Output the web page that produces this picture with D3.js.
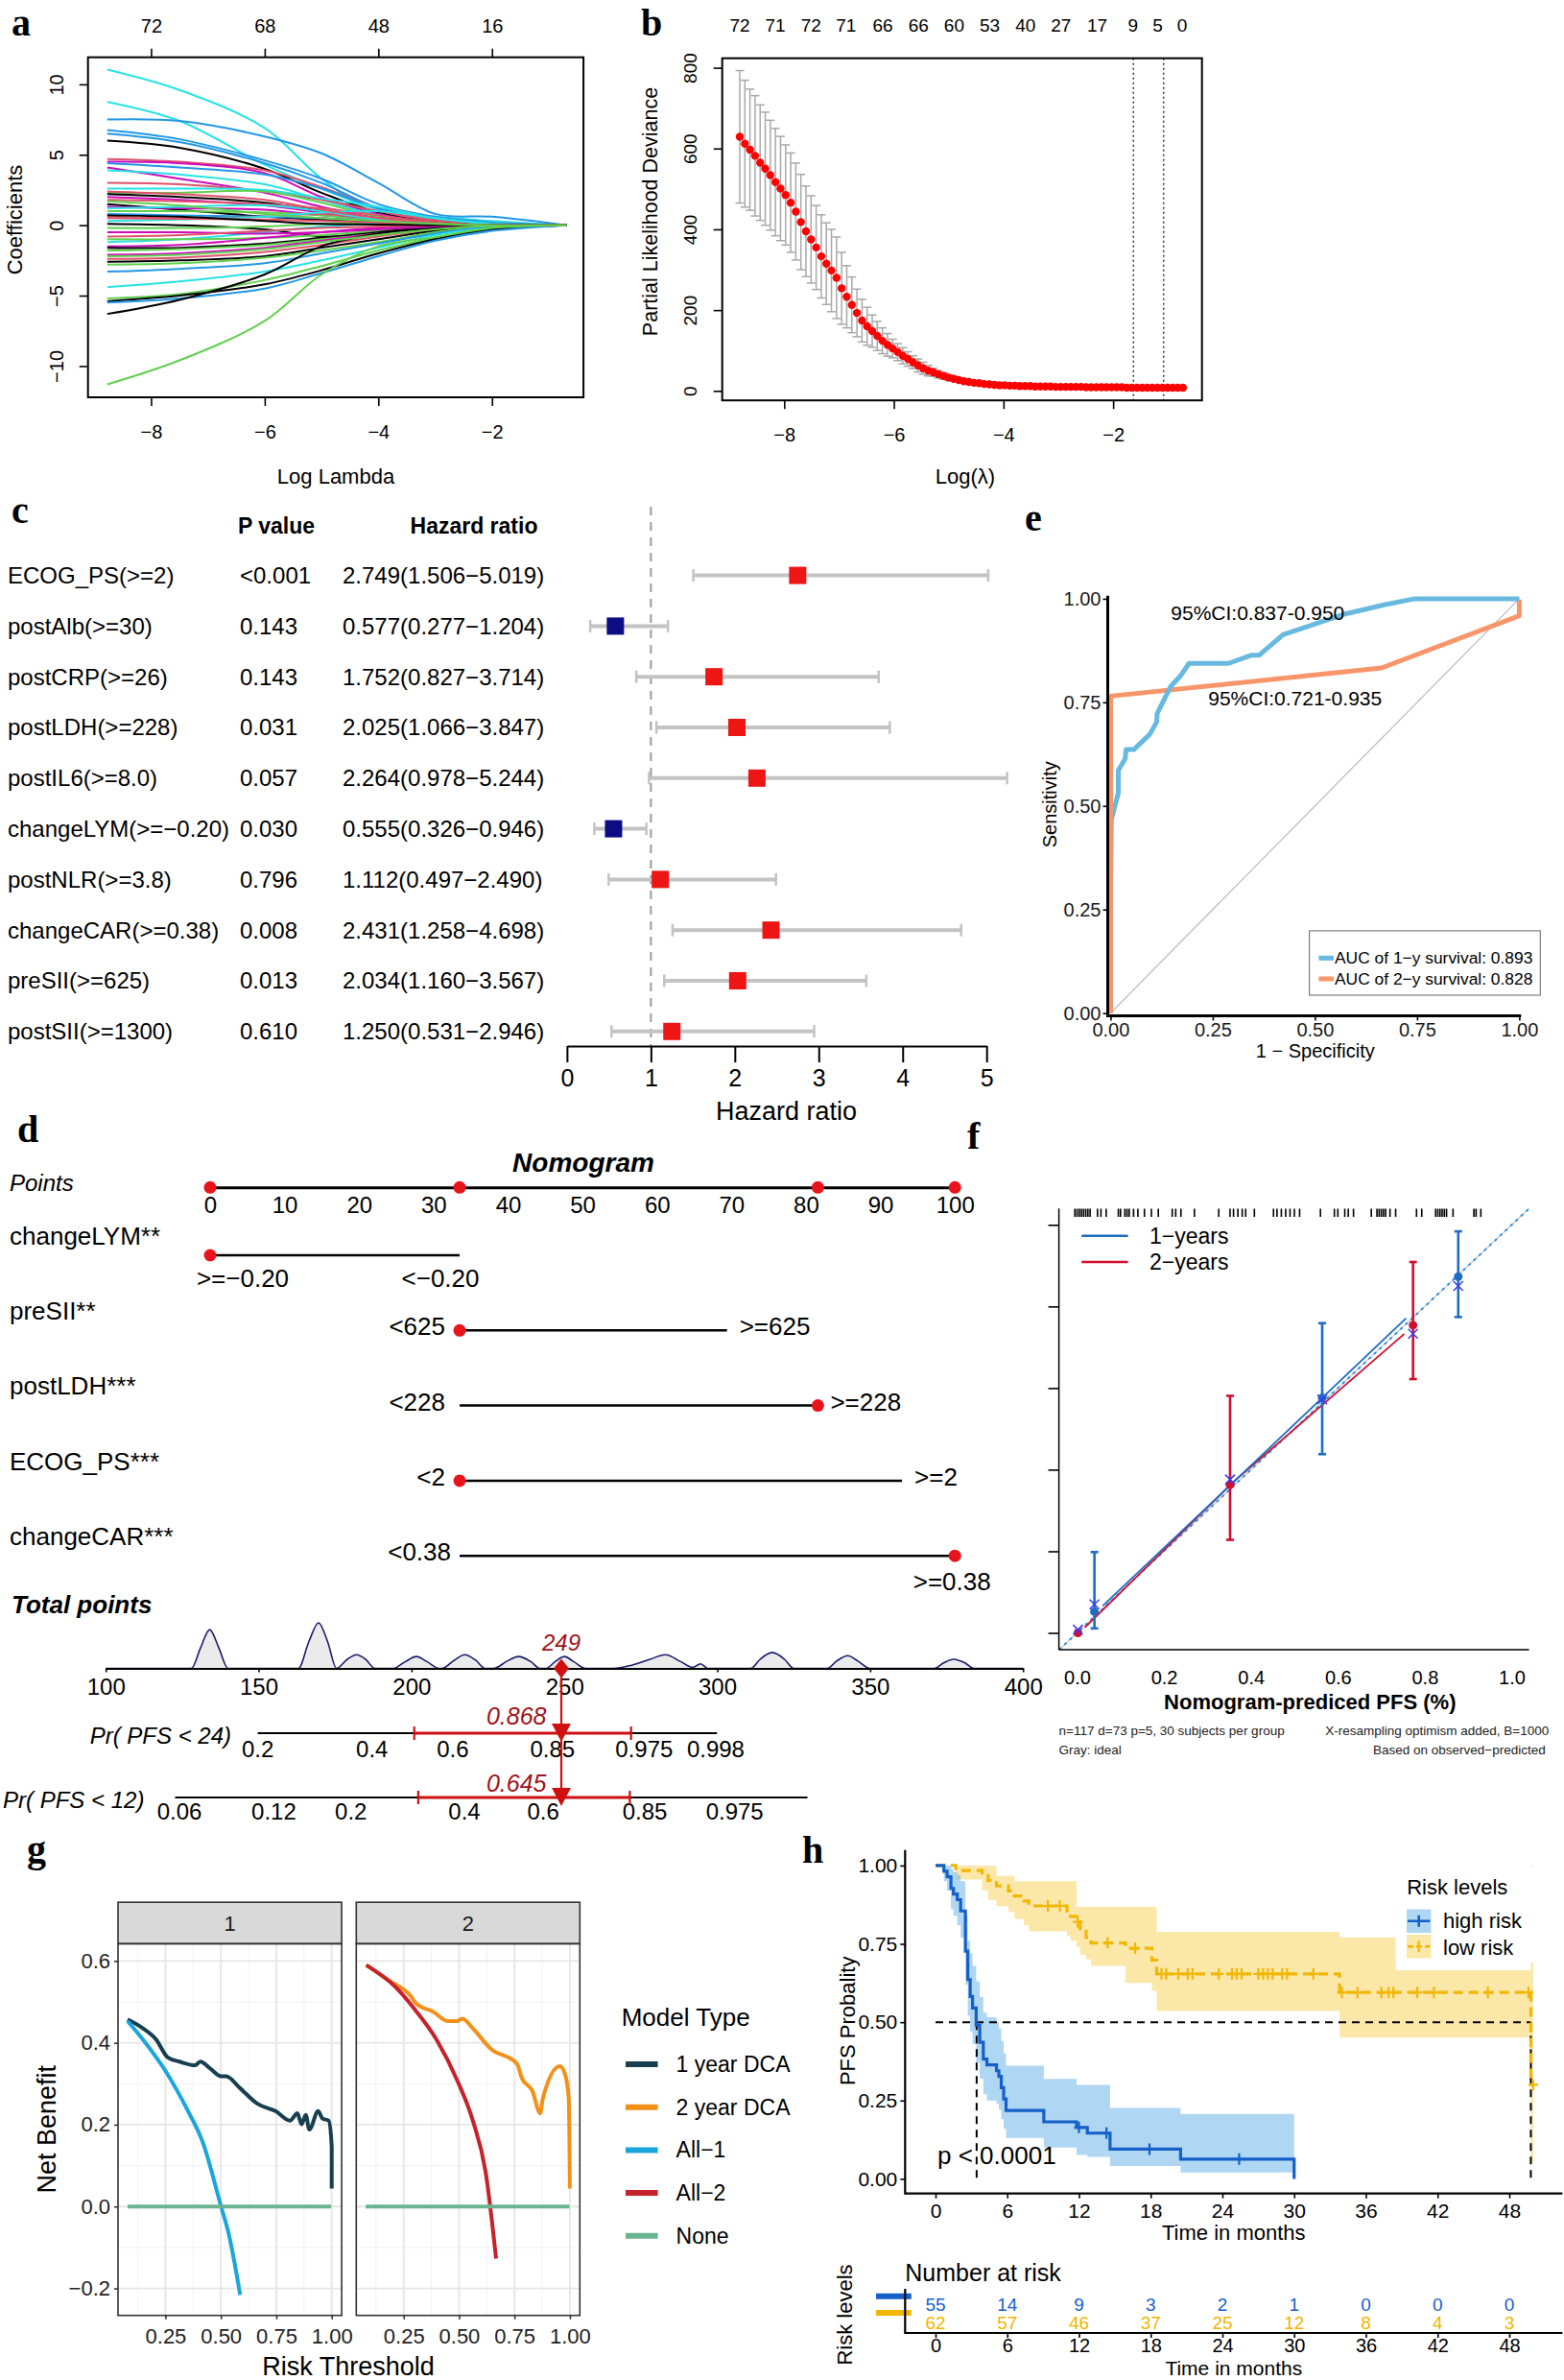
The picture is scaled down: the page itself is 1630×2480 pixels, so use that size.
<!DOCTYPE html>
<html>
<head>
<meta charset="utf-8">
<script src="https://cdn.jsdelivr.net/npm/d3@7"></script>
<style>
body { margin: 0; background: #fff; }
</style>
</head>
<body>
<div id="fig"></div>
<script>
// ---------- data ----------
// a: lasso coefficient paths, value at each log(lambda) in aGrid
var aGrid = [-8.77, -7.5, -6, -5, -4, -3, -2, -0.69];
var aPaths = [
  [11.05, 9.6, 6.9, 3.3, 0.8, 0.35, 0.1, 0],
  [8.75, 7.4, 4.3, 2.6, 1.1, 0.6, 0.3, 0],
  [7.5, 7.4, 6.3, 5.1, 3.0, 0.8, 0.6, 0],
  [6.75, 6.1, 4.6, 3.3, 1.5, 0.6, 0.2, 0],
  [6.5, 5.9, 4.4, 3.0, 1.2, 0.4, 0.1, 0],
  [6.0, 5.5, 4.0, 2.3, 0.9, 0.3, 0.05, 0],
  [4.7, 4.5, 3.9, 2.7, 1.2, 0.4, 0.1, 0],
  [4.5, 4.4, 3.7, 2.0, 0.8, 0.2, 0, 0],
  [4.4, 4.1, 3.6, 2.6, 1.2, 0.5, 0.1, 0],
  [4.1, 3.3, 2.3, 1.3, 0.5, 0.1, 0, 0],
  [3.9, 3.6, 2.9, 1.8, 0.7, 0.2, 0, 0],
  [3.0, 2.9, 2.4, 1.8, 1.0, 0.3, 0.05, 0],
  [2.6, 2.6, 2.5, 1.9, 1.3, 0.5, 0.1, 0],
  [2.3, 2.3, 2.4, 1.6, 0.6, 0.2, 0, 0],
  [2.2, 2.0, 1.6, 1.0, 0.5, 0.2, 0, 0],
  [2.0, 1.8, 1.4, 0.9, 0.4, 0.1, 0, 0],
  [1.8, 1.7, 1.5, 1.2, 0.7, 0.2, 0, 0],
  [1.5, 1.1, 0.6, 0.4, 0.2, 0.1, 0, 0],
  [1.3, 1.2, 1.1, 0.7, 0.4, 0.1, 0, 0],
  [1.0, 1.0, 0.9, 0.7, 0.3, 0.1, 0, 0],
  [0.8, 0.7, 0.6, 0.5, 0.3, 0.1, 0, 0],
  [0.6, 0.5, 0.6, 0.8, 0.5, 0.2, 0, 0],
  [0.3, 0.4, 0.6, 0.9, 1.0, 0.5, 0.1, 0],
  [0.1, 0.0, -0.3, -0.8, -0.6, -0.2, 0, 0],
  [-0.2, -0.2, -0.1, 0.1, 0.2, 0.1, 0, 0],
  [-1.2, -1.0, -0.5, -0.1, 0.1, 0.05, 0, 0],
  [-1.0, -1.0, -0.9, -0.7, -0.4, -0.1, 0, 0],
  [-1.5, -1.4, -0.9, -0.5, -0.2, -0.05, 0, 0],
  [-1.6, -1.6, -1.3, -0.9, -0.5, -0.1, 0, 0],
  [-1.8, -1.7, -1.4, -1.0, -0.6, -0.2, 0, 0],
  [-2.1, -2.0, -1.6, -1.1, -0.6, -0.2, 0, 0],
  [-2.4, -2.3, -1.9, -1.4, -0.8, -0.3, -0.05, 0],
  [-2.6, -2.5, -2.2, -1.6, -1.0, -0.4, -0.1, 0],
  [-2.8, -2.7, -2.3, -1.8, -1.2, -0.5, -0.1, 0],
  [-3.3, -3.1, -2.7, -2.0, -1.3, -0.6, -0.1, 0],
  [-4.4, -4.0, -3.3, -2.5, -1.6, -0.7, -0.2, 0],
  [-5.2, -4.9, -3.9, -2.9, -1.8, -0.9, -0.3, 0],
  [-5.4, -5.0, -4.2, -3.2, -2.0, -1.0, -0.3, 0],
  [-5.5, -5.2, -4.5, -3.4, -2.2, -1.1, -0.4, 0],
  [-6.3, -5.3, -3.5, -1.5, -0.6, -0.2, 0, 0],
  [-11.3, -9.6, -6.8, -3.5, -1.5, -0.85, -0.2, 0],
  [0.5, 0.45, 0.4, 0.3, 0.2, 0.05, 0, 0],
  [-0.5, -0.5, -0.6, -0.5, -0.3, -0.1, 0, 0],
  [1.2, 1.3, 1.4, 1.0, 0.4, 0.1, 0, 0],
  [-0.8, -0.7, -0.4, -0.2, -0.1, 0, 0, 0],
  [2.4, 2.2, 1.8, 1.1, 0.5, 0.1, 0, 0],
  [0.7, 0.6, 0.3, 0.1, 0.05, 0, 0, 0],
  [-2.2, -2.1, -1.7, -1.2, -0.7, -0.3, -0.05, 0],
  [1.7, 1.4, 0.8, 0.5, 0.3, 0.1, 0, 0]
];
var aPathCol = [4,4,3,3,3,0,1,5,3,5,4,1,4,2,0,5,1,0,5,2,3,1,4,0,2,4,2,5,0,2,5,1,0,2,3,4,2,0,3,0,2,1,5,4,1,1,0,2,2];
var aTopLab = ["72", "68", "48", "16"];
var rPal = ["#000000", "#DF536B", "#61D04F", "#2297E6", "#28E2E5", "#CD0BBC"];

// b: cross-validated partial likelihood deviance
var bLamStart = -8.81, bLamStep = 0.0929;
var bDev = [629,612,597,582,565,550,534,517,501,485,466,444,418,395,375,355,333,315,298,280,
  254,233,213,193,174,160,148,136,124,114,105,96,87,79,71,63,56,50,46,41,
  37,33,30,27,24,22,20,19,17,16,15,14,14,13,13,12,12,12,11,11,
  11,11,10,10,10,10,10,10,9,9,9,9,9,9,9,9,8,8,8,8,8,8,8,8,8,8,8,8];
var bSe = [164,157,150,149,143,140,136,133,129,124,123,120,118,112,108,104,103,101,102,101,
  89,77,69,59,53,47,40,36,32,28,23,21,20,18,16,16,15,13,10,9,
  8,7,6,5,5,4,4,3,3,3,3,3,2,2,2,2,2,2,2,2,
  2,2,2,2,2,2,2,2,2,2,2,2,2,2,2,2,2,2,2,2,2,2,2,2,2,2,2,2];
var bTopLam = [-8.81,-8.16,-7.51,-6.87,-6.2,-5.55,-4.9,-4.25,-3.6,-2.95,-2.29,-1.64,-1.19,-0.74];
var bTopLab = ["72","71","72","71","66","66","60","53","40","27","17","9","5","0"];
var bVlines = [-1.63, -1.08];

// c: forest plot
var cVars = ["ECOG_PS(>=2)","postAlb(>=30)","postCRP(>=26)","postLDH(>=228)","postIL6(>=8.0)",
  "changeLYM(>=\u22120.20)","postNLR(>=3.8)","changeCAR(>=0.38)","preSII(>=625)","postSII(>=1300)"];
var cP = ["<0.001","0.143","0.143","0.031","0.057","0.030","0.796","0.008","0.013","0.610"];
var cHR = [2.749,0.577,1.752,2.025,2.264,0.555,1.112,2.431,2.034,1.250];
var cLo = [1.506,0.277,0.827,1.066,0.978,0.326,0.497,1.258,1.160,0.531];
var cHi = [5.019,1.204,3.714,3.847,5.244,0.946,2.490,4.698,3.567,2.946];

// e: ROC curves
var eFpr1 = [0,0,0.002,0.019,0.019,0.036,0.038,0.057,0.096,0.113,0.114,0.147,0.172,0.192,0.289,0.345,0.364,0.422,0.569,0.672,0.744,1.0];
var eTpr1 = [0,0.3,0.467,0.531,0.586,0.614,0.636,0.636,0.673,0.703,0.723,0.788,0.815,0.844,0.844,0.864,0.864,0.913,0.962,0.986,1.0,1.0];
var eFpr2 = [0,0,0.663,1.0,1.0];
var eTpr2 = [0,0.765,0.833,0.959,0.998];

// d: nomogram
var dVars = ["changeLYM**","preSII**","postLDH***","ECOG_PS***","changeCAR***"];
var dLevLo = [">=\u22120.20","<625","<228","<2","<0.38"];
var dLevHi = ["<\u22120.20",">=625",">=228",">=2",">=0.38"];
var dFrom = [0,33.5,33.5,33.5,33.5];
var dTo = [33.5,69.4,81.6,92.9,100];
var dSel = [0,33.5,81.6,33.5,100];
var dPointMarks = [0,33.5,81.6,100];
var dTotal = 249;
var dDensX = [100,128,131,134,137,140,163,166.5,169.6,172.5,175.5,179,182,185,188,194,198,201.6,205,209,
  210,214,217.4,221,224,227,231,235,239,242,244,247,250,253,257,266,272,278,283,288,292,294.5,297,
  311,314,318,322,325,336,339,342.7,346,350,371,374,377.3,381,384,400];
var dDensY = [0,0,0.45,0.85,0.45,0,0,0.6,1.0,0.6,0,0.2,0.3,0.2,0,0,0.15,0.26,0.15,0,
  0,0.18,0.3,0.18,0,0,0.15,0.26,0.15,0,0,0.15,0.26,0.15,0,0,0.07,0.2,0.3,0.15,0.02,0.1,0,
  0,0.2,0.35,0.2,0,0,0.16,0.28,0.16,0,0,0.12,0.2,0.12,0,0];
var dPr24Lab = ["0.2","0.4","0.6","0.85","0.975","0.998"];
var dPr24Pts = [149.7,187.1,213.5,246.1,276.1,299.5];
var dPr12Lab = ["0.06","0.12","0.2","0.4","0.6","0.85","0.975"];
var dPr12Pts = [124.1,155.0,180.2,217.3,243.1,276.3,305.7];
var dPr24Est = "0.868", dPr24CI = [200.9,271.8];
var dPr12Est = "0.645", dPr12CI = [202.2,271.4];

// f: calibration
var fRug = [-0.005,0,0.005,0.01,0.015,0.02,0.025,0.03,0.047,0.055,0.067,0.095,0.1,0.11,0.115,0.12,0.13,0.14,
  0.155,0.171,0.187,0.219,0.227,0.239,0.27,0.326,0.352,0.36,0.37,0.38,0.388,0.408,
  0.452,0.46,0.47,0.48,0.49,0.5,0.512,0.56,0.592,0.6,0.616,0.624,0.636,
  0.677,0.69,0.695,0.7,0.705,0.71,0.72,0.733,0.781,0.793,0.825,0.83,0.835,0.84,0.845,0.85,0.865,0.913,0.918,0.929];
var f1Pred = [0.040,0.564,0.877], f1Obs = [0.052,0.576,0.873], f1Lo = [0.011,0.438,0.774], f1Hi = [0.198,0.759,0.984], f1Cor = [0.070,0.572,0.850];
var f2Pred = [0.002,0.352,0.773], f2Obs = [0.0,0.363,0.754], f2Lo = [0.0,0.228,0.622], f2Hi = [0.0,0.581,0.909], f2Cor = [0.008,0.376,0.733];
var f1LineX = [0.059,0.40,0.757], f1LineY = [0.066,0.41,0.771];
var f2LineX = [0.018,0.36,0.753], f2LineY = [0.013,0.37,0.733];

// g: decision curves
var g1DcaX = [0.079,0.149,0.208,0.259,0.313,0.384,0.407,0.454,0.501,0.524,0.583,0.665,0.747,0.812,0.845,0.864,0.883,0.899,0.939,0.958,0.986,1.0,1.0];
var g1DcaY = [0.457,0.435,0.408,0.365,0.354,0.345,0.354,0.336,0.318,0.318,0.291,0.251,0.233,0.21,0.228,0.201,0.224,0.188,0.233,0.215,0.21,0.147,0.044];
var gAll1X = [0.079,0.161,0.255,0.348,0.419,0.501,0.536,0.587];
var gAll1Y = [0.453,0.399,0.327,0.237,0.156,0.0,-0.068,-0.216];
var g2DcaX = [0.081,0.187,0.28,0.304,0.386,0.449,0.491,0.515,0.562,0.644,0.761,0.784,0.831,0.866,0.878,0.955,0.979,0.995,1.0];
var g2DcaY = [0.590,0.551,0.515,0.497,0.475,0.453,0.453,0.459,0.435,0.385,0.349,0.313,0.282,0.228,0.264,0.343,0.322,0.264,0.044];
var gAll2X = [0.081,0.210,0.304,0.398,0.491,0.562,0.62,0.667];
var gAll2Y = [0.590,0.538,0.479,0.408,0.309,0.210,0.084,-0.127];
var gNoneX = [0.079,0.998];
var gNoneY = [0,0];
var gTypes = ["1 year DCA","2 year DCA","All\u22121","All\u22122","None"];
var gCols = ["#173f4f","#f39018","#1aa6dc","#c5222c","#6ab491"];

// h: Kaplan-Meier
var hHiT = [0,0.7,0.97,1.29,1.5,1.82,2.1,2.5,2.7,2.9,3.1,3.4,3.7,4.0,4.3,5.1,5.3,5.5,5.7,5.9,9.06,11.8,12.7,14.6,20.5,30.0];
var hHiS = [1,0.982,0.964,0.927,0.909,0.891,0.855,0.727,0.636,0.582,0.545,0.491,0.436,0.382,0.364,0.345,0.327,0.291,0.255,0.218,0.182,0.164,0.146,0.095,0.063,0];
var hHiU = [1,1,1,0.99,0.98,0.97,0.95,0.84,0.76,0.72,0.68,0.63,0.58,0.53,0.516,0.5,0.48,0.44,0.4,0.361,0.319,0.30,0.30,0.226,0.207,0.207];
var hHiL = [1,0.95,0.92,0.86,0.84,0.81,0.77,0.62,0.52,0.47,0.43,0.37,0.32,0.27,0.25,0.24,0.22,0.19,0.16,0.131,0.10,0.076,0.07,0.041,0.02,0.02];
var hHiCT = [12.0,14.3,17.9,25.4];
var hHiCS = [0.164,0.146,0.095,0.063];
var hLoT = [0,1.7,3.9,4.4,5.1,6.1,6.6,7.4,7.8,11.0,11.3,11.8,12.1,12.6,13.0,15.9,18.1,18.5,33.8,38.5,49.8,50.0];
var hLoS = [1,0.984,0.968,0.952,0.935,0.919,0.903,0.887,0.871,0.855,0.838,0.82,0.79,0.77,0.753,0.736,0.698,0.654,0.595,0.595,0.30,0.30];
var hLoU = [1,1,1,1,0.967,0.967,0.95,0.95,0.95,0.95,0.95,0.868,0.868,0.868,0.868,0.868,0.868,0.788,0.771,0.666,1.0,1.0];
var hLoL = [1,0.955,0.92,0.89,0.87,0.852,0.83,0.81,0.79,0.775,0.76,0.74,0.715,0.70,0.68,0.625,0.60,0.536,0.451,0.451,0.05,0.05];
var hLoCT = [9.4,10.4,11.9,14.4,16.7,18.9,19.3,20.3,21.1,21.5,23.7,24.8,25.2,25.6,27.0,27.4,27.8,28.2,29.0,29.4,31.6,
  34.0,35.3,37.3,37.9,38.3,40.3,41.7,46.2,49.6,50.0];
var hLoCS = [0.871,0.871,0.82,0.753,0.736,0.654,0.654,0.654,0.654,0.654,0.654,0.654,0.654,0.654,0.654,0.654,0.654,0.654,0.654,0.654,0.654,
  0.595,0.595,0.595,0.595,0.595,0.595,0.595,0.595,0.595,0.30];
var hMedHi = 3.44, hMedLo = 49.8;
var hRiskT = [0,6,12,18,24,30,36,42,48];
var hRiskHi = [55,14,9,3,2,1,0,0,0];
var hRiskLo = [62,57,46,37,25,12,8,4,3];

// ---------- drawing ----------
var SANS = "'Liberation Sans', Arial, Helvetica, sans-serif";
var SERIF = "'Liberation Serif', 'Times New Roman', serif";
var svg = d3.select("#fig").append("svg").attr("width", 1630).attr("height", 2480);
svg.append("rect").attr("width", 1630).attr("height", 2480).attr("fill", "#fff");

function txt(g, x, y, s, o) {
  o = o || {};
  var t = g.append("text").attr("x", x).attr("y", y)
    .attr("dy", o.dy == null ? "0.35em" : o.dy)
    .attr("text-anchor", o.anchor || "middle")
    .attr("font-size", o.size || 20)
    .attr("font-family", o.family || SANS)
    .attr("fill", o.fill || "#000").text(s);
  if (o.weight) t.attr("font-weight", o.weight);
  if (o.style) t.attr("font-style", o.style);
  if (o.rotate) t.attr("transform", "rotate(" + o.rotate + "," + x + "," + y + ")");
  return t;
}
function seg(g, x1, y1, x2, y2, col, w) {
  return g.append("line").attr("x1", x1).attr("y1", y1).attr("x2", x2).attr("y2", y2)
    .attr("stroke", col || "#000").attr("stroke-width", w || 1.5);
}
// tidy a d3 axis: tick text position/size
function styleAxis(g, size, col) {
  g.selectAll(".tick line").attr("stroke", "#000").attr("stroke-width", 1.6);
  g.selectAll(".tick text").attr("font-size", size).attr("font-family", SANS).attr("fill", col || "#000");
}
function bottomText(g, off) { g.selectAll(".tick text").attr("y", off).attr("dy", "0.35em"); }
function leftRotText(g, off) {
  g.selectAll(".tick text").attr("x", 0).attr("y", 0).attr("dy", "0.35em").attr("text-anchor", "middle")
    .attr("transform", "translate(" + (-off) + ",0) rotate(-90)");
}

// panel letters
[["a", 12, 37], ["b", 668, 37], ["c", 12, 545], ["e", 1068, 553], ["d", 18, 1190], ["f", 1008, 1197], ["g", 28, 1940], ["h", 836, 1941]]
  .forEach(function (p) { txt(svg, p[1], p[2], p[0], { size: 40, family: SERIF, weight: "bold", anchor: "start", dy: 0 }); });

// ===== a =====
(function () {
  var x = d3.scaleLinear().domain([-9.11, -0.39]).range([91.7, 608.1]);
  var y = d3.scaleLinear().domain([-12.22, 11.92]).range([414, 59.7]);
  var g = svg.append("g");
  var line = d3.line().x(function (d, j) { return x(aGrid[j]); }).y(function (d) { return y(d); })
    .curve(d3.curveCatmullRom.alpha(0.5));
  aPaths.forEach(function (p, i) {
    g.append("path").datum(p).attr("d", line).attr("fill", "none")
      .attr("stroke", rPal[aPathCol[i]]).attr("stroke-width", 2);
  });
  g.append("rect").attr("x", 91.7).attr("y", 59.7).attr("width", 516.4).attr("height", 354.3)
    .attr("fill", "none").attr("stroke", "#000").attr("stroke-width", 2);
  var xb = g.append("g").attr("transform", "translate(0,414)")
    .call(d3.axisBottom(x).tickValues([-8, -6, -4, -2]).tickSize(9).tickSizeOuter(0));
  xb.select(".domain").remove(); styleAxis(xb, 20); bottomText(xb, 36);
  var xt = g.append("g").attr("transform", "translate(0,59.7)")
    .call(d3.axisTop(x).tickValues([-8, -6, -4, -2]).tickSize(9).tickFormat(function (d, i) { return aTopLab[i]; }));
  xt.select(".domain").remove(); styleAxis(xt, 20); bottomText(xt, -33);
  var yl = g.append("g").attr("transform", "translate(91.7,0)")
    .call(d3.axisLeft(y).tickValues([-10, -5, 0, 5, 10]).tickSize(9));
  yl.select(".domain").remove(); styleAxis(yl, 20); leftRotText(yl, 33);
  txt(g, 350, 496, "Log Lambda", { size: 22 });
  txt(g, 15, 229, "Coefficients", { size: 22, rotate: -90 });
})();

// ===== b =====
(function () {
  var x = d3.scaleLinear().domain([-9.13, -0.38]).range([752.7, 1252.7]);
  var y = d3.scaleLinear().domain([-23.5, 823.5]).range([417.2, 60.7]);
  var g = svg.append("g");
  var pts = bDev.map(function (v, i) { return { l: bLamStart + i * bLamStep, v: v, s: bSe[i] }; });
  var eb = g.append("g").attr("stroke", "#a8a8a8").attr("stroke-width", 1.5);
  pts.forEach(function (d) {
    var xx = x(d.l);
    eb.append("line").attr("x1", xx).attr("x2", xx).attr("y1", y(d.v - d.s)).attr("y2", y(d.v + d.s));
    eb.append("line").attr("x1", xx - 4.5).attr("x2", xx + 4.5).attr("y1", y(d.v + d.s)).attr("y2", y(d.v + d.s));
    eb.append("line").attr("x1", xx - 4.5).attr("x2", xx + 4.5).attr("y1", y(d.v - d.s)).attr("y2", y(d.v - d.s));
  });
  bVlines.forEach(function (l) {
    g.append("line").attr("x1", x(l)).attr("x2", x(l)).attr("y1", 60.7).attr("y2", 417.2)
      .attr("stroke", "#333").attr("stroke-width", 1.5).attr("stroke-dasharray", "2,3");
  });
  g.selectAll("circle.dev").data(pts).enter().append("circle")
    .attr("cx", function (d) { return x(d.l); }).attr("cy", function (d) { return y(d.v); })
    .attr("r", 4.2).attr("fill", "#ff0000");
  g.append("rect").attr("x", 752.7).attr("y", 60.7).attr("width", 500).attr("height", 356.5)
    .attr("fill", "none").attr("stroke", "#000").attr("stroke-width", 2);
  var xb = g.append("g").attr("transform", "translate(0,417.2)")
    .call(d3.axisBottom(x).tickValues([-8, -6, -4, -2]).tickSize(9));
  xb.select(".domain").remove(); styleAxis(xb, 20); bottomText(xb, 36);
  bTopLam.forEach(function (l, i) { txt(g, x(l), 26.5, bTopLab[i], { size: 19 }); });
  var yl = g.append("g").attr("transform", "translate(752.7,0)")
    .call(d3.axisLeft(y).tickValues([0, 200, 400, 600, 800]).tickSize(9));
  yl.select(".domain").remove(); styleAxis(yl, 19); leftRotText(yl, 33);
  txt(g, 1006, 496, "Log(\u03bb)", { size: 22 });
  txt(g, 677, 220.5, "Partial Likelihood Deviance", { size: 21.5, rotate: -90 });
})();

// ===== c =====
(function () {
  var x = d3.scaleLinear().domain([0, 5]).range([590.9, 1028.2]);
  var g = svg.append("g");
  var rowY = function (i) { return 599.6 + i * 52.8; };
  txt(g, 288, 548, "P value", { size: 23, weight: "bold" });
  txt(g, 494, 548, "Hazard ratio", { size: 23, weight: "bold" });
  g.append("line").attr("x1", x(1)).attr("x2", x(1)).attr("y1", 528).attr("y2", 1090)
    .attr("stroke", "#9a9a9a").attr("stroke-width", 2).attr("stroke-dasharray", "9,7");
  cVars.forEach(function (v, i) {
    var yy = rowY(i);
    txt(g, 8, yy, v, { size: 24, anchor: "start" });
    txt(g, 250, yy, cP[i], { size: 24, anchor: "start" });
    txt(g, 357, yy, cHR[i].toFixed(3) + "(" + cLo[i].toFixed(3) + "\u2212" + cHi[i].toFixed(3) + ")", { size: 24, anchor: "start" });
    seg(g, x(cLo[i]), yy, x(cHi[i]), yy, "#c3c3c3", 4);
    seg(g, x(cLo[i]), yy - 6.5, x(cLo[i]), yy + 6.5, "#c3c3c3", 2.5);
    seg(g, x(cHi[i]), yy - 6.5, x(cHi[i]), yy + 6.5, "#c3c3c3", 2.5);
    g.append("rect").attr("x", x(cHR[i]) - 9).attr("y", yy - 9).attr("width", 18).attr("height", 18)
      .attr("fill", cHR[i] > 1 ? "#ee1515" : "#0c0c85");
  });
  var ax = g.append("g").attr("transform", "translate(0,1090)")
    .call(d3.axisBottom(x).ticks(5).tickSize(17).tickSizeOuter(0));
  ax.select(".domain").attr("stroke", "#000").attr("stroke-width", 2);
  styleAxis(ax, 25); bottomText(ax, 33);
  ax.selectAll(".tick line").attr("stroke-width", 2);
  txt(g, 819.5, 1158, "Hazard ratio", { size: 27 });
})();

// ===== e =====
(function () {
  var x = d3.scaleLinear().domain([0, 1]).range([1157.4, 1583.4]);
  var y = d3.scaleLinear().domain([0, 1]).range([1055.7, 623.9]);
  var g = svg.append("g");
  seg(g, x(0), y(0), x(1), y(1), "#bdbdbd", 1.3);
  var line = d3.line().x(function (d) { return x(d[0]); }).y(function (d) { return y(d[1]); });
  g.append("path").datum(d3.zip(eFpr2, eTpr2)).attr("d", line).attr("fill", "none")
    .attr("stroke", "#f9956a").attr("stroke-width", 5).attr("stroke-linejoin", "round");
  g.append("path").datum(d3.zip(eFpr1, eTpr1)).attr("d", line).attr("fill", "none")
    .attr("stroke", "#67b9df").attr("stroke-width", 5).attr("stroke-linejoin", "round");
  // orange vertical edge sits over the blue one in the reference
  g.append("path").datum(d3.zip(eFpr2.slice(0, 2), eTpr2.slice(0, 2))).attr("d", line).attr("fill", "none")
    .attr("stroke", "#f9956a").attr("stroke-width", 5);
  var ax = g.append("g").attr("transform", "translate(0,1058.4)")
    .call(d3.axisBottom(x).tickValues([0, 0.25, 0.5, 0.75, 1]).tickFormat(d3.format(".2f")).tickSize(5).tickSizeOuter(0));
  ax.select(".domain").attr("d", "M" + (1154.5 - 1.5) + ",0H1585.3").attr("stroke", "#000").attr("stroke-width", 3);
  styleAxis(ax, 20, "#1a1a1a"); bottomText(ax, 15);
  var ay = g.append("g").attr("transform", "translate(1154.5,0)")
    .call(d3.axisLeft(y).tickValues([0, 0.25, 0.5, 0.75, 1]).tickFormat(d3.format(".2f")).tickSize(5).tickSizeOuter(0));
  ay.select(".domain").attr("d", "M0,620.7V1059.9").attr("stroke", "#000").attr("stroke-width", 3);
  styleAxis(ay, 20, "#1a1a1a"); ay.selectAll(".tick text").attr("x", -7);
  txt(g, 1370.8, 1095.2, "1 \u2212 Specificity", { size: 20 });
  txt(g, 1094.5, 838.2, "Sensitivity", { size: 20, rotate: -90 });
  txt(g, 1310.8, 638.5, "95%CI:0.837-0.950", { size: 21 });
  txt(g, 1349.7, 727.5, "95%CI:0.721-0.935", { size: 21 });
  g.append("rect").attr("x", 1364.6).attr("y", 969.9).attr("width", 240.7).attr("height", 67.1)
    .attr("fill", "#fff").attr("stroke", "#666").attr("stroke-width", 1);
  seg(g, 1374.4, 998.3, 1390, 998.3, "#67b9df", 5);
  seg(g, 1374.4, 1020, 1390, 1020, "#f9956a", 5);
  txt(g, 1391, 998.3, "AUC of 1\u2212y survival: 0.893", { size: 17.4, anchor: "start" });
  txt(g, 1391, 1020, "AUC of 2\u2212y survival: 0.828", { size: 17.4, anchor: "start" });
})();

// ===== d =====
(function () {
  var xP = d3.scaleLinear().domain([0, 100]).range([219, 995.2]);
  var xT = d3.scaleLinear().domain([100, 400]).range([110.2, 1066.2]);
  var g = svg.append("g");
  txt(g, 608, 1211, "Nomogram", { size: 28, weight: "bold", style: "italic" });
  txt(g, 10, 1232.6, "Points", { size: 24, style: "italic", anchor: "start" });
  var pa = g.append("g").attr("transform", "translate(0,1237.3)")
    .call(d3.axisBottom(xP).tickValues(d3.range(0, 101, 10)).tickSize(0).tickSizeOuter(0));
  pa.select(".domain").attr("stroke", "#000").attr("stroke-width", 3);
  styleAxis(pa, 24); bottomText(pa, 18);
  dPointMarks.forEach(function (p) { g.append("circle").attr("cx", xP(p)).attr("cy", 1237.3).attr("r", 6.5).attr("fill", "#e8141c"); });

  dVars.forEach(function (v, i) {
    var ly = 1308 + i * 78.3;
    txt(g, 10, ly - 20.5, v, { size: 26, anchor: "start" });
    seg(g, xP(dFrom[i]), ly, xP(dTo[i]), ly, "#000", 2.5);
    g.append("circle").attr("cx", xP(dSel[i])).attr("cy", ly).attr("r", 6.5).attr("fill", "#e8141c");
    if (i === 0) {
      txt(g, xP(dFrom[i]) + 34, ly + 24, dLevLo[i], { size: 26 });
      txt(g, xP(dTo[i]) - 20, ly + 24, dLevHi[i], { size: 26 });
    } else if (i === 4) {
      txt(g, xP(dFrom[i]) - 9, ly - 4, dLevLo[i], { size: 26, anchor: "end" });
      txt(g, xP(dTo[i]) - 3, ly + 27, dLevHi[i], { size: 26 });
    } else {
      txt(g, xP(dFrom[i]) - 15, ly - 4, dLevLo[i], { size: 26, anchor: "end" });
      txt(g, xP(dTo[i]) + 13, ly - 4, dLevHi[i], { size: 26, anchor: "start" });
    }
  });

  txt(g, 12, 1671.5, "Total points", { size: 26, weight: "bold", style: "italic", anchor: "start" });
  var yD = d3.scaleLinear().domain([0, 1]).range([1738.5, 1691]);
  var dens = d3.zip(dDensX, dDensY);
  g.append("path").datum(dens)
    .attr("d", d3.area().x(function (d) { return xT(d[0]); }).y0(1738.5).y1(function (d) { return yD(d[1]); }).curve(d3.curveMonotoneX))
    .attr("fill", "#ebebeb").attr("stroke", "none");
  g.append("path").datum(dens)
    .attr("d", d3.line().x(function (d) { return xT(d[0]); }).y(function (d) { return yD(d[1]); }).curve(d3.curveMonotoneX))
    .attr("fill", "none").attr("stroke", "#1b1b6b").attr("stroke-width", 1.6);
  var ta = g.append("g").attr("transform", "translate(0,1738.5)")
    .call(d3.axisBottom(xT).tickValues(d3.range(100, 401, 50)).tickSize(4).tickSizeOuter(0));
  ta.select(".domain").attr("stroke", "#000").attr("stroke-width", 2);
  styleAxis(ta, 24); bottomText(ta, 19);

  // probability axes
  var prAx = [
    { lab: "Pr( PFS < 24)", y: 1806, lx: 241, anchor: "end", from: 149.7, to: 299.9, ticks: dPr24Pts, tl: dPr24Lab, toff: 17, ci: dPr24CI, est: dPr24Est, ey: 1788 },
    { lab: "Pr( PFS < 12)", y: 1873, lx: 3, anchor: "start", from: 122.7, to: 329.5, ticks: dPr12Pts, tl: dPr12Lab, toff: 15, ci: dPr12CI, est: dPr12Est, ey: 1858 }
  ];
  prAx.forEach(function (a) {
    txt(g, a.lx, a.y + 3, a.lab, { size: 24, style: "italic", anchor: a.anchor });
    seg(g, xT(a.from), a.y, xT(a.to), a.y, "#000", 1.8);
    a.ticks.forEach(function (p, k) { txt(g, xT(p), a.y + a.toff, a.tl[k], { size: 24 }); });
  });
  // red projection
  var red = "#d01010";
  seg(g, xT(dTotal), 1738.5, xT(dTotal), 1873, red, 2.2);
  prAx.forEach(function (a) {
    seg(g, xT(a.ci[0]), a.y, xT(a.ci[1]), a.y, red, 3);
    seg(g, xT(a.ci[0]), a.y - 7, xT(a.ci[0]), a.y + 7, red, 2.2);
    seg(g, xT(a.ci[1]), a.y - 7, xT(a.ci[1]), a.y + 7, red, 2.2);
    var cx = xT(dTotal);
    g.append("path").attr("d", "M" + (cx - 10) + "," + (a.y - 10) + "L" + (cx + 10) + "," + (a.y - 10) + "L" + cx + "," + (a.y + 9) + "Z").attr("fill", red);
    txt(g, xT(dTotal) - 46.8, a.ey, a.est, { size: 25, style: "italic", fill: "#a0141c" });
  });
  var cx = xT(dTotal);
  g.append("path").attr("d", "M" + cx + "," + (1738.5 - 10) + "L" + (cx + 8) + ",1738.5L" + cx + "," + (1738.5 + 10) + "L" + (cx - 8) + ",1738.5Z").attr("fill", red);
  txt(g, cx, 1711.6, String(dTotal), { size: 24, style: "italic", fill: "#a0141c" });
})();

// ===== f =====
(function () {
  var x = d3.scaleLinear().domain([0, 1]).range([1122.5, 1575.5]);
  var y = d3.scaleLinear().domain([0, 1]).range([1701.5, 1276.3]);
  var g = svg.append("g");
  var blue = "#1f6cc0", red = "#cf1030", xcol = "#3b3bf5";
  seg(g, x(-0.04), y(-0.04), x(1.04), y(1.04), "#cfcfcf", 1.5);
  g.append("line").attr("x1", x(-0.04)).attr("y1", y(-0.04)).attr("x2", x(1.04)).attr("y2", y(1.04))
    .attr("stroke", "#2e8fe0").attr("stroke-width", 2).attr("stroke-dasharray", "1.5,6").attr("stroke-linecap", "round");
  var ln = d3.line().x(function (d) { return x(d[0]); }).y(function (d) { return y(d[1]); });
  g.append("path").datum(d3.zip(f2LineX, f2LineY)).attr("d", ln).attr("fill", "none").attr("stroke", red).attr("stroke-width", 1.8);
  g.append("path").datum(d3.zip(f1LineX, f1LineY)).attr("d", ln).attr("fill", "none").attr("stroke", blue).attr("stroke-width", 1.8);
  function bars(pred, obs, lo, hi, cor, col) {
    pred.forEach(function (p, i) {
      var xx = x(p);
      if (hi[i] > lo[i]) {
        seg(g, xx, y(lo[i]), xx, y(hi[i]), col, 2.6);
        seg(g, xx - 4, y(lo[i]), xx + 4, y(lo[i]), col, 2.6);
        seg(g, xx - 4, y(hi[i]), xx + 4, y(hi[i]), col, 2.6);
      }
      g.append("circle").attr("cx", xx).attr("cy", y(obs[i])).attr("r", 4.5).attr("fill", col);
      var cy = y(cor[i]);
      seg(g, xx - 5, cy - 5, xx + 5, cy + 5, xcol, 1.5);
      seg(g, xx - 5, cy + 5, xx + 5, cy - 5, xcol, 1.5);
    });
  }
  bars(f2Pred, f2Obs, f2Lo, f2Hi, f2Cor, red);
  bars(f1Pred, f1Obs, f1Lo, f1Hi, f1Cor, blue);
  fRug.forEach(function (v) { seg(g, x(v), 1259.5, x(v), 1268, "#000", 1.6); });
  seg(g, 1103.6, 1719, 1593.6, 1719, "#000", 1.5);
  seg(g, 1103.6, 1259.2, 1103.6, 1719, "#000", 1.5);
  var ax = g.append("g").attr("transform", "translate(0,1719)")
    .call(d3.axisBottom(x).tickValues([0, 0.2, 0.4, 0.6, 0.8, 1]).tickFormat(d3.format(".1f")).tickSize(0));
  ax.select(".domain").remove(); styleAxis(ax, 20); bottomText(ax, 29);
  var ay = g.append("g").attr("transform", "translate(1103.6,0)")
    .call(d3.axisLeft(y).tickValues([0, 0.2, 0.4, 0.6, 0.8, 1]).tickSize(11).tickFormat(""));
  ay.select(".domain").remove(); styleAxis(ay, 20);
  txt(g, 1365.3, 1772.8, "Nomogram-prediced PFS (%)", { size: 22, weight: "bold" });
  txt(g, 1103.6, 1803.6, "n=117 d=73 p=5, 30 subjects per group", { size: 13.5, anchor: "start", fill: "#222" });
  txt(g, 1103.6, 1823.4, "Gray: ideal", { size: 13.5, anchor: "start", fill: "#222" });
  txt(g, 1614.3, 1803.6, "X-resampling optimism added, B=1000", { size: 13.5, anchor: "end", fill: "#222" });
  txt(g, 1610.7, 1823.4, "Based on observed\u2212predicted", { size: 13.5, anchor: "end", fill: "#222" });
  seg(g, 1127.2, 1287.8, 1175.6, 1287.8, blue, 2.5);
  seg(g, 1127.2, 1315, 1175.6, 1315, red, 2.5);
  txt(g, 1198, 1287.8, "1\u2212years", { size: 23, anchor: "start" });
  txt(g, 1198, 1315, "2\u2212years", { size: 23, anchor: "start" });
})();

// ===== g =====
(function () {
  var y = d3.scaleLinear().domain([-0.266, 0.642]).range([2412.7, 2025.4]);
  var panels = [{ x0: 123, x1: 356.1, lab: "1" }, { x0: 371.3, x1: 604.3, lab: "2" }];
  var series = [
    { x: g1DcaX, y: g1DcaY, c: 0, p: 0 }, { x: g2DcaX, y: g2DcaY, c: 1, p: 1 },
    { x: gAll1X, y: gAll1Y, c: 2, p: 0 }, { x: gAll2X, y: gAll2Y, c: 3, p: 1 },
    { x: gNoneX, y: gNoneY, c: 4, p: 0 }, { x: gNoneX, y: gNoneY, c: 4, p: 1 }
  ];
  var g = svg.append("g");
  panels.forEach(function (pn, k) {
    var x = d3.scaleLinear().domain([0.036, 1.045]).range([pn.x0, pn.x1]);
    pn.x = x;
    g.append("rect").attr("x", pn.x0).attr("y", 2025.4).attr("width", pn.x1 - pn.x0).attr("height", 387.3).attr("fill", "#fff");
    [0.125, 0.375, 0.625, 0.875].forEach(function (v) { seg(g, x(v), 2025.4, x(v), 2412.7, "#f2f2f2", 1); });
    [-0.1, 0.1, 0.3, 0.5].forEach(function (v) { seg(g, pn.x0, y(v), pn.x1, y(v), "#f2f2f2", 1); });
    [0.25, 0.5, 0.75, 1].forEach(function (v) { seg(g, x(v), 2025.4, x(v), 2412.7, "#e6e6e6", 1.8); });
    [-0.2, 0, 0.2, 0.4, 0.6].forEach(function (v) { seg(g, pn.x0, y(v), pn.x1, y(v), "#e6e6e6", 1.8); });
    var ax = g.append("g").attr("transform", "translate(0,2412.7)")
      .call(d3.axisBottom(x).tickValues([0.25, 0.5, 0.75, 1]).tickFormat(d3.format(".2f")).tickSize(4).tickSizeOuter(0));
    ax.select(".domain").remove(); styleAxis(ax, 22, "#222"); bottomText(ax, 22);
    ax.selectAll(".tick line").attr("stroke", "#333");
    g.append("rect").attr("x", pn.x0).attr("y", 1982.2).attr("width", pn.x1 - pn.x0).attr("height", 43.2)
      .attr("fill", "#d9d9d9").attr("stroke", "#333").attr("stroke-width", 1.6);
    txt(g, (pn.x0 + pn.x1) / 2, 2004.4, pn.lab, { size: 22, fill: "#1a1a1a" });
  });
  series.forEach(function (s) {
    var x = panels[s.p].x;
    g.append("path").datum(d3.zip(s.x, s.y))
      .attr("d", d3.line().x(function (d) { return x(d[0]); }).y(function (d) { return y(d[1]); }).curve(d3.curveMonotoneX))
      .attr("fill", "none").attr("stroke", gCols[s.c]).attr("stroke-width", 4).attr("stroke-linejoin", "round");
  });
  panels.forEach(function (pn) {
    g.append("rect").attr("x", pn.x0).attr("y", 2025.4).attr("width", pn.x1 - pn.x0).attr("height", 387.3)
      .attr("fill", "none").attr("stroke", "#333").attr("stroke-width", 1.6);
  });
  var ay = g.append("g").attr("transform", "translate(123,0)")
    .call(d3.axisLeft(y).tickValues([-0.2, 0, 0.2, 0.4, 0.6]).tickFormat(d3.format(".1f")).tickSize(4).tickSizeOuter(0));
  ay.select(".domain").remove(); styleAxis(ay, 22, "#222"); ay.selectAll(".tick text").attr("x", -8);
  ay.selectAll(".tick line").attr("stroke", "#333");
  txt(g, 363, 2465.5, "Risk Threshold", { size: 27 });
  txt(g, 48.8, 2218.7, "Net Benefit", { size: 27, rotate: -90 });
  txt(g, 647.7, 2102, "Model Type", { size: 26, anchor: "start" });
  gTypes.forEach(function (t, i) {
    var yy = 2151 + i * 44.7;
    seg(g, 652, yy, 685.6, yy, gCols[i], 6);
    txt(g, 704.6, yy, t, { size: 23, anchor: "start" });
  });
})();

// ===== h =====
(function () {
  var x = d3.scaleLinear().domain([0, 48]).range([975, 1573]);
  var y = d3.scaleLinear().domain([0, 1]).range([2270.4, 1943.9]);
  var g = svg.append("g");
  var blue = "#1560c8", yel = "#f2b705";
  function band(T, U, L, fill) {
    g.append("path").datum(T.map(function (t, i) { return [t, U[i], L[i]]; }))
      .attr("d", d3.area().x(function (d) { return x(d[0]); }).y0(function (d) { return y(d[2]); }).y1(function (d) { return y(d[1]); }).curve(d3.curveStepAfter))
      .attr("fill", fill).attr("fill-opacity", 0.55).attr("stroke", "none");
  }
  band(hLoT, hLoU, hLoL, "#f8d460");
  band(hHiT, hHiU, hHiL, "#6db5ea");
  var step = d3.line().x(function (d) { return x(d[0]); }).y(function (d) { return y(d[1]); }).curve(d3.curveStepAfter);
  // median guides
  g.append("path").attr("d", "M" + x(0) + "," + y(0.5) + "H" + x(hMedLo) + "M" + x(hMedHi) + "," + y(0.5) + "V" + y(0) + "M" + x(hMedLo) + "," + y(0.5) + "V" + y(0))
    .attr("stroke", "#000").attr("stroke-width", 2).attr("stroke-dasharray", "8,6").attr("fill", "none");
  g.append("path").datum(d3.zip(hLoT, hLoS)).attr("d", step).attr("fill", "none").attr("stroke", yel)
    .attr("stroke-width", 3.2).attr("stroke-dasharray", "10,6");
  g.append("path").datum(d3.zip(hHiT, hHiS)).attr("d", step).attr("fill", "none").attr("stroke", blue).attr("stroke-width", 3.2);
  function cens(T, S, col) {
    T.forEach(function (t, i) {
      var xx = x(t), yy = y(S[i]);
      g.append("path").attr("d", "M" + (xx - 5) + "," + yy + "h10M" + xx + "," + (yy - 6) + "v12")
        .attr("stroke", col).attr("stroke-width", 2.2).attr("fill", "none");
    });
  }
  cens(hLoCT, hLoCS, yel);
  cens(hHiCT, hHiCS, blue);
  var ax = g.append("g").attr("transform", "translate(0,2285.7)")
    .call(d3.axisBottom(x).tickValues(hRiskT).tickSize(5).tickSizeOuter(0));
  ax.select(".domain").attr("d", "M943.3,0H1628.4").attr("stroke", "#000").attr("stroke-width", 2.2);
  styleAxis(ax, 21); bottomText(ax, 17.5);
  var ay = g.append("g").attr("transform", "translate(943.3,0)")
    .call(d3.axisLeft(y).tickValues([0, 0.25, 0.5, 0.75, 1]).tickFormat(d3.format(".2f")).tickSize(5).tickSizeOuter(0));
  ay.select(".domain").attr("d", "M0,1927.8V2286.8").attr("stroke", "#000").attr("stroke-width", 2.2);
  styleAxis(ay, 21); ay.selectAll(".tick text").attr("x", -8);
  txt(g, 1285.8, 2325.8, "Time in months", { size: 22 });
  txt(g, 882.8, 2105.8, "PFS Probality", { size: 22, rotate: -90 });
  txt(g, 977, 2245.5, "p < 0.0001", { size: 26, anchor: "start" });
  // legend
  g.append("rect").attr("x", 1458).attr("y", 1945).attr("width", 150).attr("height", 100).attr("fill", "#fff");
  txt(g, 1466.2, 1966.1, "Risk levels", { size: 22, anchor: "start" });
  g.append("rect").attr("x", 1466).attr("y", 1989.5).attr("width", 25.4).attr("height", 24.5).attr("fill", "#6db5ea").attr("fill-opacity", 0.55);
  g.append("rect").attr("x", 1466).attr("y", 2016).attr("width", 25.4).attr("height", 24.5).attr("fill", "#f8d460").attr("fill-opacity", 0.55);
  g.append("path").attr("d", "M1467,2001.7h23.4M1478.7,1995.7v12").attr("stroke", blue).attr("stroke-width", 2.6);
  g.append("path").attr("d", "M1467,2028.2h23.4").attr("stroke", yel).attr("stroke-width", 2.6).attr("stroke-dasharray", "6,3");
  g.append("path").attr("d", "M1478.7,2022.2v12").attr("stroke", yel).attr("stroke-width", 2.2);
  txt(g, 1504, 2001.7, "high risk", { size: 22, anchor: "start" });
  txt(g, 1504, 2029.3, "low risk", { size: 22, anchor: "start" });

  // risk table
  txt(g, 943.3, 2367.9, "Number at risk", { size: 25, anchor: "start" });
  hRiskT.forEach(function (t, i) {
    txt(g, x(t), 2401.5, String(hRiskHi[i]), { size: 19, fill: "#1560d0" });
    txt(g, x(t), 2420.5, String(hRiskLo[i]), { size: 19, fill: "#f2b400" });
  });
  seg(g, 913, 2392.8, 949.8, 2392.8, blue, 6);
  seg(g, 913, 2410, 949.8, 2410, yel, 6);
  seg(g, 943.3, 2385, 943.3, 2432, "#000", 2.2);
  var at = g.append("g").attr("transform", "translate(0,2431)")
    .call(d3.axisBottom(x).tickValues(hRiskT).tickSize(5).tickSizeOuter(0));
  at.select(".domain").attr("d", "M943.3,0H1628.4").attr("stroke", "#000").attr("stroke-width", 2.2);
  styleAxis(at, 20); bottomText(at, 12.5);
  txt(g, 1285.8, 2467.5, "Time in months", { size: 21 });
  txt(g, 880.3, 2412, "Risk levels", { size: 22, rotate: -90 });
})();
</script>
</body>
</html>
